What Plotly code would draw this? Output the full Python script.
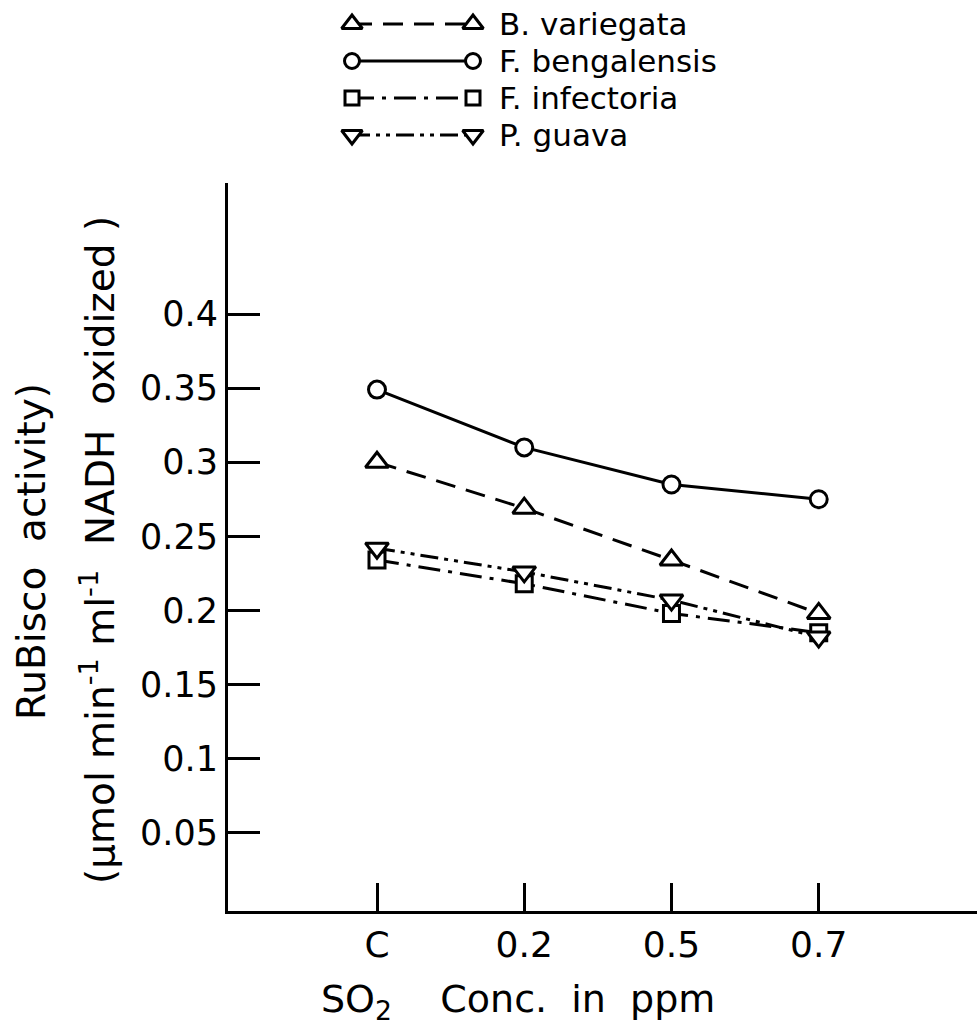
import plotly.graph_objects as go

# ---------------- data ----------------
categories = ["C", "0.2", "0.5", "0.7"]
series_names = ["B. variegata", "F. bengalensis", "F. infectoria", "P. guava"]
b_variegata = [0.300, 0.269, 0.234, 0.198]
f_bengalensis = [0.349, 0.310, 0.285, 0.275]
f_infectoria = [0.234, 0.218, 0.198, 0.185]
p_guava = [0.242, 0.226, 0.207, 0.182]
y_tick_vals = [0.05, 0.10, 0.15, 0.20, 0.25, 0.30, 0.35, 0.40]
y_tick_text = ["0.05", "0.1", "0.15", "0.2", "0.25", "0.3", "0.35", "0.4"]

values = [b_variegata, f_bengalensis, f_infectoria, p_guava]

# ---------------- styles ----------------
W, H = 977, 1032
ML, MR, MT, MB = 228, 0, 0, 121
FONT = "DejaVu Sans"
styles = [
    dict(symbol="triangle-up", size=20, dash="20px,11px"),
    dict(symbol="circle", size=17, dash="solid"),
    dict(symbol="square", size=16, dash="22px,8px,4px,8px"),
    dict(symbol="triangle-down", size=20, dash="18px,6px,4px,6px,4px,6px"),
]
legend_rows = [24, 61, 98, 135]
legend_x0, legend_x1, legend_text_x = 352, 473, 497

fig = go.Figure()
for name, vals, st in zip(series_names, values, styles):
    fig.add_trace(go.Scatter(
        x=categories, y=vals, mode="lines+markers", name=name,
        line=dict(color="black", width=3, dash=st["dash"]),
        marker=dict(symbol=st["symbol"], size=st["size"], color="white",
                    line=dict(color="black", width=3)),
        xaxis="x", yaxis="y", cliponaxis=False,
    ))

# legend samples drawn on an auxiliary (hidden) pair of axes
for name, st, ry in zip(series_names, styles, legend_rows):
    fig.add_trace(go.Scatter(
        x=[legend_x0, legend_x1], y=[ry, ry], mode="lines+markers",
        line=dict(color="black", width=3, dash=st["dash"]),
        marker=dict(symbol=st["symbol"], size=st["size"] - 2, color="white",
                    line=dict(color="black", width=3)),
        xaxis="x2", yaxis="y2", showlegend=False, cliponaxis=False,
    ))
    fig.add_annotation(x=legend_text_x, y=ry, xref="x2", yref="y2", text=name,
                       showarrow=False, xanchor="left", yanchor="middle",
                       font=dict(family=FONT, size=31, color="black"))

plot_h = H - MB - MT
main_top = 183


def py(p):
    return (H - MB - p) / plot_h


def px(p):
    return (p - ML) / (W - ML - MR)


fig.update_layout(
    width=W, height=H,
    margin=dict(l=ML, r=MR, t=MT, b=MB),
    plot_bgcolor="white", paper_bgcolor="white",
    showlegend=False,
    font=dict(family=FONT, size=35, color="black"),
    xaxis=dict(
        type="category", categoryorder="array", categoryarray=categories,
        range=[-1.012, 4.075], showline=True, linewidth=3, linecolor="black",
        ticks="inside", ticklen=28, tickwidth=3, tickcolor="black",
        showgrid=False, zeroline=False, tickfont=dict(family=FONT, size=36),
        anchor="y",
    ),
    yaxis=dict(
        domain=[0, py(main_top)], range=[-0.0028, 0.4884],
        showline=True, linewidth=3, linecolor="black",
        ticks="inside", ticklen=32, tickwidth=3, tickcolor="black",
        tickvals=y_tick_vals, ticktext=y_tick_text,
        showgrid=False, zeroline=False, tickfont=dict(family=FONT, size=35),
        anchor="x",
    ),
    xaxis2=dict(domain=[0, 1], range=[ML, W - MR], visible=False, anchor="y2"),
    yaxis2=dict(domain=[py(main_top), 1], range=[main_top, 0], visible=False, anchor="x2"),
)

fig.add_annotation(x=px(518), y=py(1001), xref="paper", yref="paper",
                   text="SO<sub>2</sub>    Conc.  in  ppm", showarrow=False,
                   xanchor="center", yanchor="middle",
                   font=dict(family=FONT, size=38, color="black"))
fig.add_annotation(x=px(31), y=py(552), xref="paper", yref="paper",
                   text="RuBisco  activity)", showarrow=False, textangle=-90,
                   xanchor="center", yanchor="middle",
                   font=dict(family=FONT, size=39, color="black"))
fig.add_annotation(x=px(98), y=py(550), xref="paper", yref="paper",
                   text="(μmol min<sup>-1</sup> ml<sup>-1</sup>  NADH  oxidized )",
                   showarrow=False, textangle=-90,
                   xanchor="center", yanchor="middle",
                   font=dict(family=FONT, size=39, color="black"))

fig.write_html("out.html", config={"displayModeBar": False},
               post_script="document.body.style.margin='0px';document.body.style.overflow='hidden';")
